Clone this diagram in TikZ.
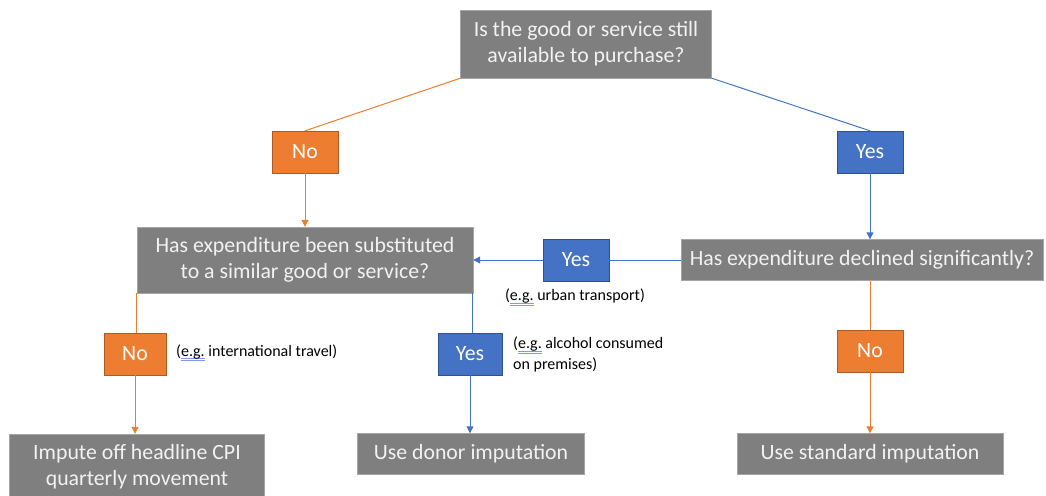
\documentclass[tikz,border=0pt]{standalone}
\usepackage{fontspec}
\setmainfont{Carlito}
\usepackage{xcolor}
\usetikzlibrary{arrows.meta}
\definecolor{boxgray}{HTML}{7F7F7F}
\definecolor{txtgray}{HTML}{F2F2F2}
\definecolor{orng}{HTML}{ED7D31}
\definecolor{orngdark}{HTML}{AE5A21}
\definecolor{blu}{HTML}{4472C4}
\definecolor{bludark}{HTML}{2F528F}
\definecolor{egblue}{HTML}{7A9CEB}
\newcommand{\egword}{\setbox0\hbox{e.g.}%
  \rlap{\color{egblue}\rule[-2.6pt]{\wd0}{0.8pt}}%
  \rlap{\color{egblue}\rule[-4.6pt]{\wd0}{0.8pt}}\box0}
\tikzset{
  question/.style={fill=boxgray, draw=boxgray!70, text=txtgray, align=center,
    font=\fontsize{21.8}{26}\selectfont, inner sep=0pt},
  nobox/.style={fill=orng, draw=orngdark, text=white, minimum width=66pt,
    minimum height=42pt, font=\fontsize{21.8}{26}\selectfont},
  yesbox/.style={fill=blu, draw=bludark, text=white, minimum width=66pt,
    minimum height=42pt, font=\fontsize{21.8}{26}\selectfont},
  note/.style={align=left, inner sep=0pt, font=\fontsize{16}{21}\selectfont},
  oline/.style={draw=orng, line width=1pt},
  bline/.style={draw=blu, line width=1pt},
  arr/.style={-{Triangle[width=7pt,length=7pt]}}
}
\begin{document}
\begin{tikzpicture}[x=1pt,y=-1pt]
  \useasboundingbox (0,0) rectangle (1046,495);
  \node[question, minimum width=251pt, minimum height=68pt] (q1) at (586,44) {Is the good or service still\\available to purchase?};
  \node[nobox] (no1) at (305,152) {No};
  \node[yesbox] (yes1) at (870,152) {Yes};
  \node[question, minimum width=336pt, minimum height=66pt] (q2) at (305,260) {Has expenditure been substituted\\to a similar good or service?};
  \node[yesbox] (yes2) at (576,260) {Yes};
  \node[question, minimum width=362pt, minimum height=41pt] (q3) at (862,260) {Has expenditure declined significantly?};
  \node[nobox, minimum width=62pt] (no2) at (135,354) {No};
  \node[yesbox, minimum width=64pt] (yes3) at (470,354) {Yes};
  \node[nobox] (no3) at (870,351) {No};
  \node[question, minimum width=255pt, minimum height=66pt] (r1) at (137,467) {Impute off headline CPI\\quarterly movement};
  \node[question, minimum width=227pt, minimum height=41pt] (r2) at (471,454) {Use donor imputation};
  \node[question, minimum width=266pt, minimum height=41pt] (r3) at (870,454) {Use standard imputation};
  % examples
  \node[note, anchor=north] (n1) at (575,289) {(\egword{} urban transport)};
  \node[note, anchor=west] (n2) at (176,353) {(\egword{} international travel)};
  \node[note, anchor=north west] (n3) at (513,337) {(\egword{} alcohol consumed\\on premises)};
	\draw [oline] (q1.south west)--(no1.north);
	\draw [bline] (q1.south east)--(yes1.north);
	\draw [oline, arr] (no1.south)--(q2.north -| no1.south);
	\draw [bline, arr] (yes1.south)--(q3.north -| yes1.south);
	\draw [bline] (q3.west)--(yes2.east);
	\draw [bline, arr] (yes2.west)--(q2.east);
	\draw [oline] (q2.south west)--(q2.south west |- no2.north);
	\draw [oline, arr] (no2.south)--(r1.north -| no2.south);
	\draw [bline] ([xshift=-1pt]q2.south east)--([xshift=-1pt]q2.south east |- yes3.north);
	\draw [bline, arr] (yes3.south)--(r2.north -| yes3.south);
	\draw [oline] (q3.south -| no3.north)--(no3.north);
	\draw [oline, arr] (no3.south)--(r3.north -| no3.south);
\end{tikzpicture}
\end{document}
